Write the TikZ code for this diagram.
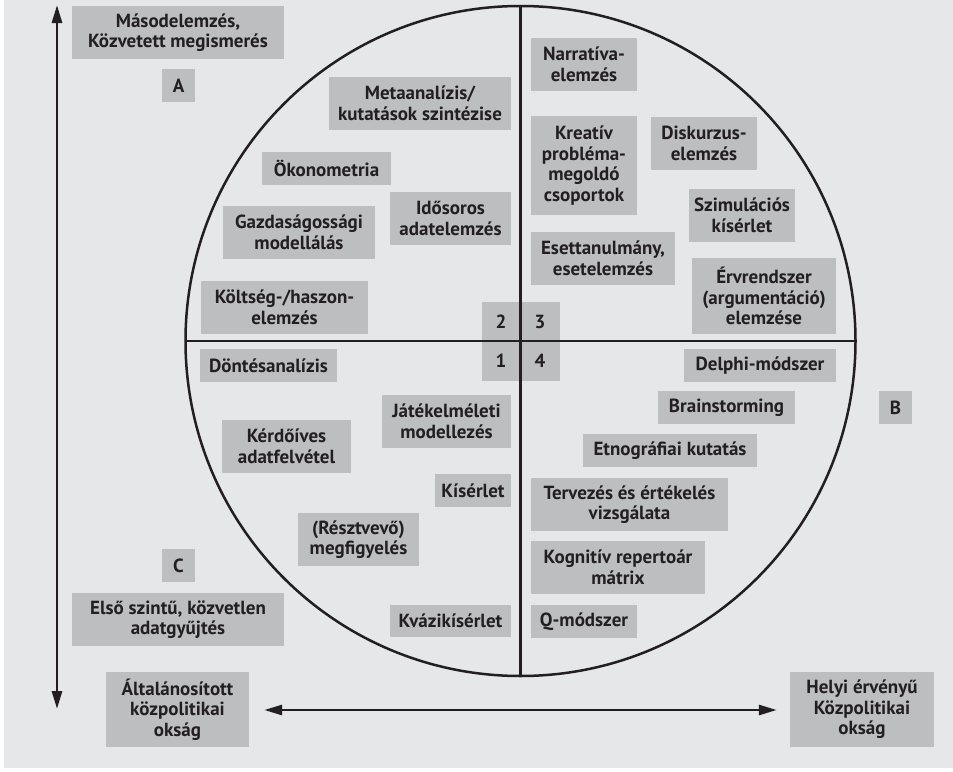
\documentclass[tikz,border=0pt]{standalone}
\usepackage{fontspec}
\setmainfont{PT Sans}
\usetikzlibrary{arrows.meta}
\definecolor{bgc}{HTML}{E6E7E8}
\definecolor{boxc}{HTML}{BCBEC0}
\definecolor{ink}{HTML}{231F20}
\tikzset{
  bx/.style={fill=boxc, inner sep=0pt, align=center, text=ink,
    font=\fontsize{19}{20.5}\selectfont\bfseries},
  num/.style={bx, minimum width=39pt, minimum height=39.5pt},
  axis/.style={draw=ink, line width=2.8pt, {Triangle[width=10pt,length=18pt]}-{Triangle[width=10pt,length=18pt]}},
  quad/.style={draw=ink, line width=2.5pt}
}
\begin{document}
\begin{tikzpicture}[x=1pt,y=-1pt]
\useasboundingbox (0,0) rectangle (953,771);
\fill[bgc] (4,0) rectangle (953,768);
% number boxes
\node[num] (n2) at (501,321.5) {2};
\node[num] (n3) at (540,321.5) {3};
\node[num] (n1) at (501,361) {1};
\node[num] (n4) at (540,361) {4};
% circle and quadrant lines
\coordinate (O) at (520.5,341);
\coordinate (top) at (520.5,6);
\coordinate (bot) at (520.5,676);
\coordinate (lft) at (185.5,341);
\coordinate (rgt) at (855.5,341);
\draw[quad] (O) circle[radius=335];
\draw[quad] (top) -- (bot);
\draw[quad] (lft) -- (rgt);
% corner boxes
\node[bx, minimum width=212pt, minimum height=53pt] (masod) at (178,32.5) {Másodelemzés,\\Közvetett megismerés};
\node[bx, minimum width=33pt, minimum height=33pt] (A) at (178.5,85.5) {A};
\node[bx, minimum width=33pt, minimum height=33pt] (B) at (895.5,407.5) {B};
\node[bx, minimum width=33pt, minimum height=33pt] (C) at (178.5,565.5) {C};
\node[bx, minimum width=212pt, minimum height=53pt] (elso) at (178,619.5) {Első szintű, közvetlen\\adatgyűjtés};
\node[bx, minimum width=143pt, minimum height=75pt] (altal) at (177.5,709.5) {Általánosított\\közpolitikai\\okság};
\node[bx, minimum width=144pt, minimum height=75pt] (helyi) at (862,709.5) {Helyi érvényű\\Közpolitikai\\okság};
% quadrant 2
\node[bx, minimum width=182pt, minimum height=53pt] (meta) at (420,103.5) {Metaanalízis/\\kutatások szintézise};
\node[bx, minimum width=129pt, minimum height=33pt] (okon) at (326.5,168.5) {Ökonometria};
\node[bx, minimum width=152pt, minimum height=53pt] (gazd) at (299,232.5) {Gazdaságossági\\modellálás};
\node[bx, minimum width=121pt, minimum height=53pt] (ido) at (450.5,218.5) {Idősoros\\adatelemzés};
\node[bx, minimum width=167pt, minimum height=53pt] (kolt) at (284.5,307.5) {Költség-/haszon-\\elemzés};
% quadrant 3
\node[bx, minimum width=106pt, minimum height=53pt] (narr) at (584,64.5) {Narratíva-\\elemzés};
\node[bx, minimum width=106pt, minimum height=99pt] (krea) at (584,165.5) {Kreatív\\probléma-\\megoldó\\csoportok};
\node[bx, minimum width=106pt, minimum height=53pt] (disk) at (704,143.5) {Diskurzus-\\elemzés};
\node[bx, minimum width=106pt, minimum height=53pt] (szim) at (742,215.5) {Szimulációs\\kísérlet};
\node[bx, minimum width=144pt, minimum height=53pt] (eset) at (603,258.5) {Esettanulmány,\\esetelemzés};
\node[bx, minimum width=144pt, minimum height=76pt] (erv) at (764,296) {Érvrendszer\\(argumentáció)\\elemzése};
% quadrant 1
\node[bx, minimum width=137pt, minimum height=33pt] (dont) at (268.5,365.5) {Döntésanalízis};
\node[bx, minimum width=129pt, minimum height=53pt] (kerd) at (286.5,446.5) {Kérdőíves\\adatfelvétel};
\node[bx, minimum width=129pt, minimum height=53pt] (jatek) at (446.5,421.5) {Játékelméleti\\modellezés};
\node[bx, minimum width=76pt, minimum height=33pt] (kis) at (473,490.5) {Kísérlet};
\node[bx, minimum width=121pt, minimum height=53pt] (reszt) at (358.5,539.5) {(Résztvevő)\\megfigyelés};
\node[bx, minimum width=121pt, minimum height=32pt] (kvazi) at (450.5,621) {Kvázikísérlet};
% quadrant 4
\node[bx, minimum width=152pt, minimum height=33pt] (delphi) at (760,365.5) {Delphi-módszer};
\node[bx, minimum width=137pt, minimum height=33pt] (brain) at (726.5,407.5) {Brainstorming};
\node[bx, minimum width=174pt, minimum height=33pt] (etno) at (670,450.5) {Etnográfiai kutatás};
\node[bx, minimum width=197pt, minimum height=53pt] (terv) at (629.5,504.5) {Tervezés és értékelés\\vizsgálata};
\node[bx, minimum width=174pt, minimum height=53pt] (kogn) at (618,567.5) {Kognitív repertoár\\mátrix};
\node[bx, minimum width=106pt, minimum height=33pt] (qmod) at (584,621.5) {Q-módszer};
% axes
\coordinate (vtop) at (57,5);
\coordinate (vbot) at (57,709);
\draw[axis] (vtop) -- (vbot);
\draw[axis, shorten <=15pt, shorten >=13pt] (altal.east |- 0,710) -- (helyi.west |- 0,710);
\end{tikzpicture}
\end{document}
